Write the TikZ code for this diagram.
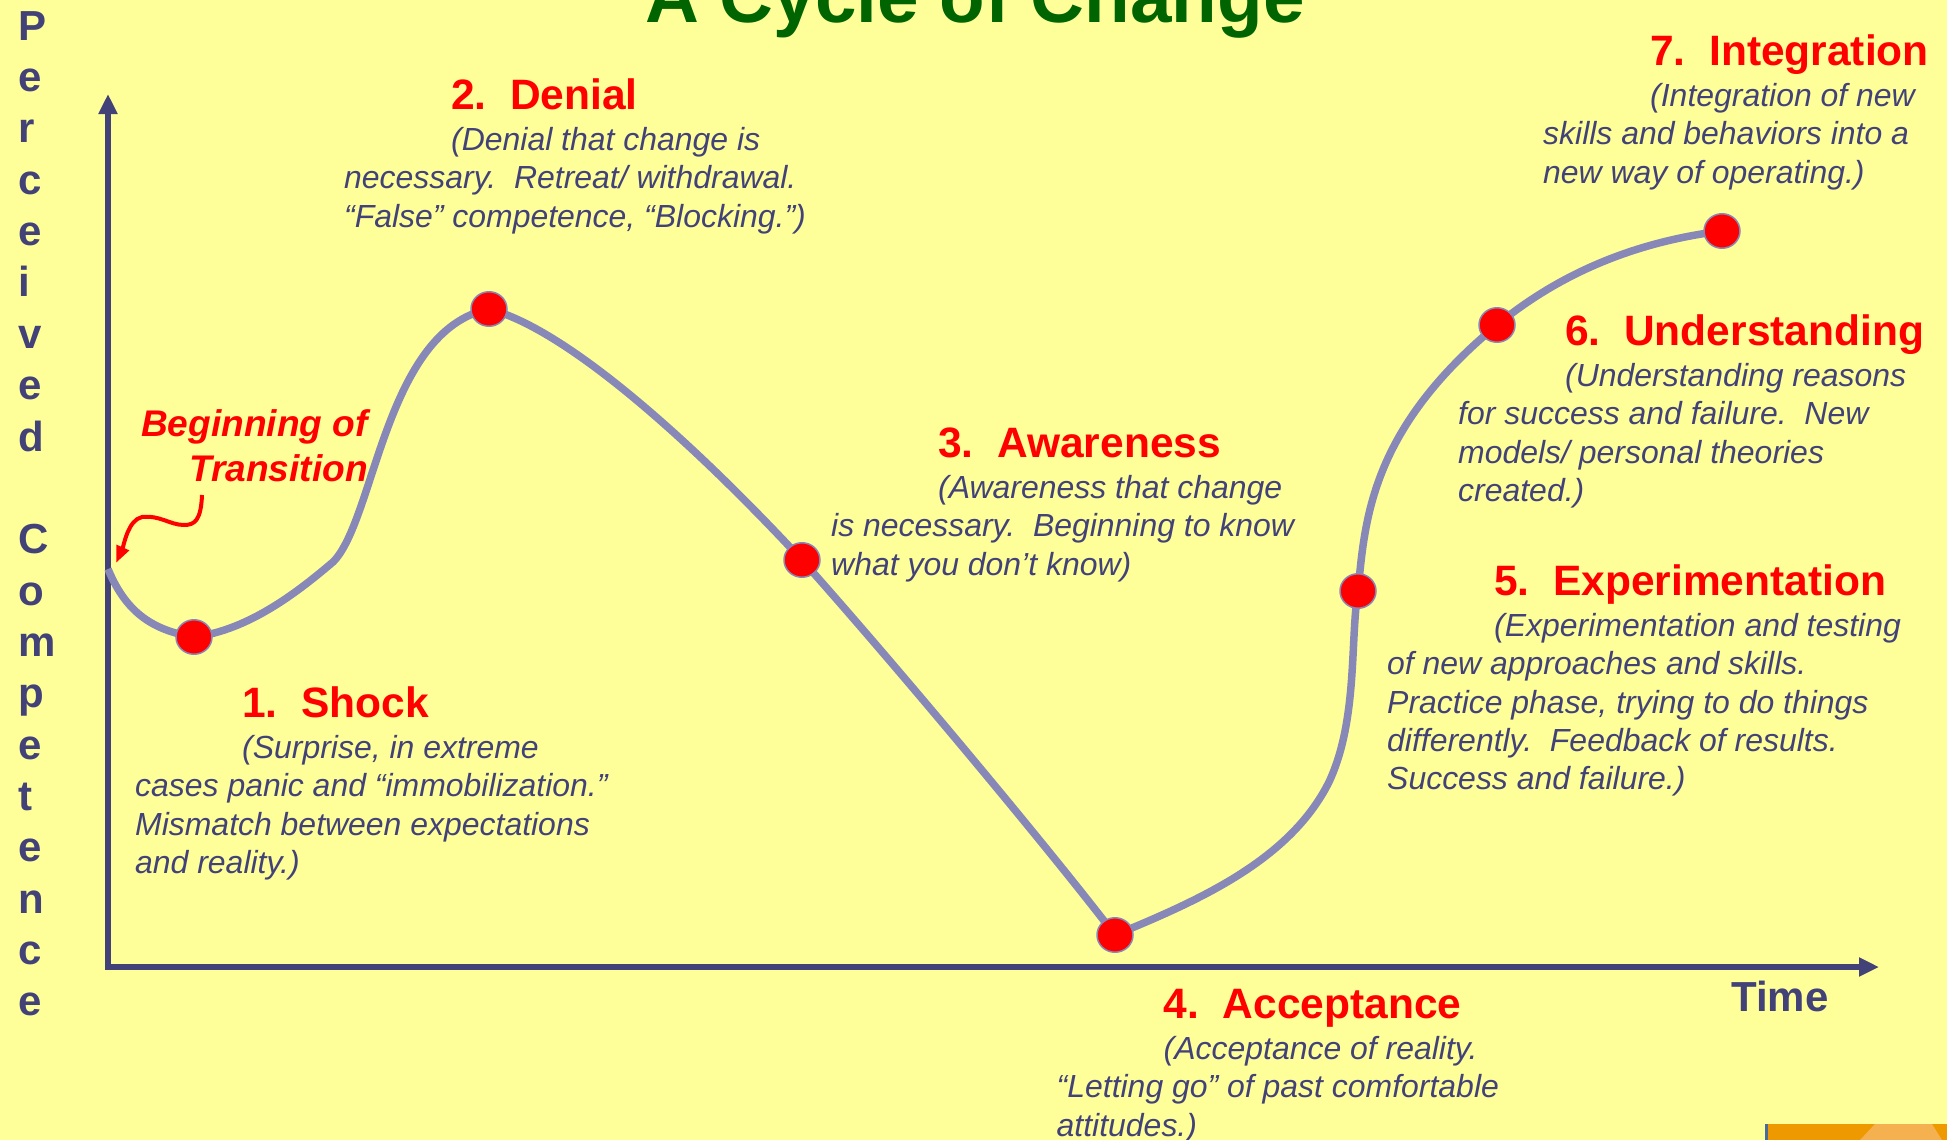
\documentclass[tikz,border=0pt]{standalone}
\usepackage{fontspec}
\setmainfont{Liberation Sans}
\usetikzlibrary{arrows.meta,shapes.geometric}
\definecolor{bgy}{HTML}{FFFF99}
\definecolor{navy}{HTML}{424279}
\definecolor{curve}{HTML}{8888B8}
\definecolor{titleg}{HTML}{006400}
\definecolor{orangea}{HTML}{EE9900}
\definecolor{orangeb}{HTML}{F5B050}
\definecolor{edgeb}{HTML}{4A6A9A}
\newcommand{\hdg}[1]{{\color{red}\bfseries\upshape\fontsize{42.5}{38.4}\selectfont\rule{0pt}{34pt}#1}}
\newcommand{\ind}{\hspace*{107pt}}
\pgfdeclarelayer{top}
\pgfsetlayers{main,top}
\tikzset{
 blocktext/.style={anchor=north west,inner sep=0pt,align=left,text=navy,font=\itshape\fontsize{31.95}{38.4}\selectfont},
 axisline/.style={draw=navy,line width=6pt,-{Triangle[length=20pt,width=18pt]}},
 trend/.style={draw=curve,line width=7.5pt},
 dotnode/.style={ellipse,draw=curve,line width=1.5pt,fill=red,minimum width=36pt,minimum height=34.5pt,inner sep=0pt},
 redarrow/.style={draw=red,line width=4pt,-{Triangle[length=17pt,width=13pt]}}
}
\begin{document}
\begin{tikzpicture}[x=1pt,y=-1pt]
\useasboundingbox[fill=bgy] (0,0) rectangle (1947,1140);
% corner decoration
\fill[orangea] (1768,1124) rectangle (1947,1140);
\fill[orangeb] (1860,1140) -- (1875,1124) -- (1932,1124) -- (1942,1140) -- cycle;
\fill[edgeb] (1765,1124) rectangle (1768,1140);
% axes
\coordinate (origin) at (108,967);
\coordinate (ytip) at (108,94);
\coordinate (xtip) at (1879,967);
\draw[axisline] (origin) -- (ytip);
\draw[axisline] ([xshift=-3pt]origin) -- (xtip);
% dots
\coordinate (start) at (108,569);
\coordinate (w1) at (333,562);
\coordinate (w2) at (1329,782);
\begin{pgfonlayer}{top}
\node[dotnode] (d1) at (194,637) {};
\node[dotnode] (d2) at (489,309) {};
\node[dotnode] (d3) at (802,560) {};
\node[dotnode] (d4) at (1115,935) {};
\node[dotnode] (d5) at (1358,591) {};
\node[dotnode] (d6) at (1497,325) {};
\node[dotnode] (d7) at (1722,231) {};
\end{pgfonlayer}
\draw[trend] (start) .. controls (125,610) and (150,630) .. (d1.center)
  .. controls (250,630) and (300,590) .. (w1)
  .. controls (375,520) and (385,330) .. (d2.center)
  .. controls (570,330) and (700,450) .. (d3.center)
  .. controls (900,670) and (1050,850) .. (d4.center)
  .. controls (1200,900) and (1290,860) .. (w2)
  .. controls (1358,720) and (1350,640) .. (d5.center)
  .. controls (1365,520) and (1370,430) .. (d6.center)
  .. controls (1570,265) and (1650,240) .. (d7.center);
% title
\node[anchor=base,inner sep=0pt,text=titleg,font=\bfseries\fontsize{74.6}{80}\selectfont] (title) at (975,23) {A Cycle of Change};
% y label
\node[anchor=north west,inner sep=0pt,align=left,text=navy,font=\bfseries\fontsize{42}{51.35}\selectfont] (ylabel) at (18,6) {\rule{0pt}{34pt}P\\e\\r\\c\\e\\i\\v\\e\\d\\ \\C\\o\\m\\p\\e\\t\\e\\n\\c\\e};
\node[anchor=base west,inner sep=0pt,text=navy,font=\bfseries\fontsize{42}{50}\selectfont] (time) at (1731,1011) {Time};
% blocks
\node[blocktext] (b1) at (135,683) {\ind\hdg{1.\ \ Shock}\\[2.6pt]\ind(Surprise, in extreme\\cases panic and “immobilization.”\\Mismatch between expectations\\and reality.)};
\node[blocktext] (b2) at (344,75) {\ind\hdg{2.\ \ Denial}\\[2.6pt]\ind(Denial that change is\\necessary.\ \ Retreat/ withdrawal.\\“False” competence, “Blocking.”)};
\node[blocktext] (b3) at (831,423) {\ind\hdg{3.\ \ Awareness}\\[2.6pt]\ind(Awareness that change\\is necessary.\ \ Beginning to know\\what you don’t know)};
\node[blocktext] (b4) at (1056.5,984) {\ind\hdg{4.\ \ Acceptance}\\[2.6pt]\ind(Acceptance of reality.\\“Letting go” of past comfortable\\attitudes.)};
\node[blocktext] (b5) at (1387,561) {\ind\hdg{5.\ \ Experimentation}\\[2.6pt]\ind(Experimentation and testing\\of new approaches and skills.\\Practice phase, trying to do things\\differently.\ \ Feedback of results.\\Success and failure.)};
\node[blocktext] (b6) at (1458,311) {\ind\hdg{6.\ \ Understanding}\\[2.6pt]\ind(Understanding reasons\\for success and failure.\ \ New\\models/ personal theories\\created.)};
\node[blocktext] (b7) at (1543,31) {\ind\hdg{7.\ \ Integration}\\[2.6pt]\ind(Integration of new\\skills and behaviors into a\\new way of operating.)};
% annotation
\node[anchor=north east,inner sep=0pt,align=right,text=red,font=\bfseries\itshape\fontsize{37.1}{45}\selectfont] (bt) at (368,406) {\rule{0pt}{30pt}Beginning of\\Transition};
\coordinate (a0) at (202,495);
\coordinate (a1) at (184,525);
\coordinate (a2) at (142,517);
\coordinate (a3) at (116,563);
\draw[redarrow] (a0) .. controls (201,520) and (195,525) .. (a1)
  .. controls (170,525) and (160,515) .. (a2)
  .. controls (128,520) and (124,545) .. (a3);
\end{tikzpicture}
\end{document}
